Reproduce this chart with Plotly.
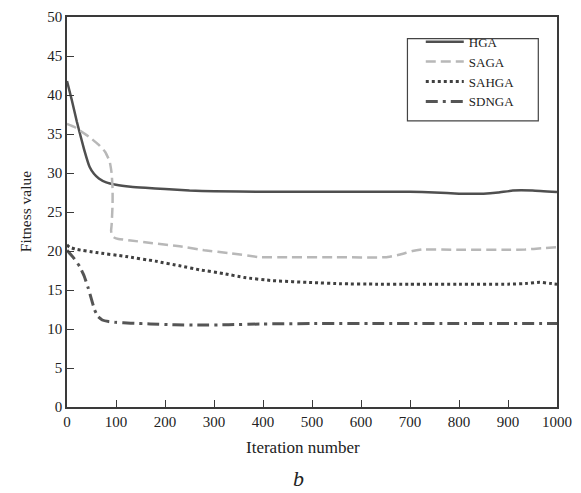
import plotly.graph_objects as go

hga_x = [0, 10, 20, 35, 46, 55, 65, 80, 100, 130, 160, 200, 250, 300, 400, 500, 600, 700, 750, 800, 850, 880, 910, 950, 1000]
hga_y = [41.8, 39.3, 36.6, 33.0, 30.8, 29.9, 29.3, 28.8, 28.5, 28.25, 28.1, 27.95, 27.75, 27.65, 27.6, 27.6, 27.6, 27.6, 27.5, 27.35, 27.35, 27.5, 27.75, 27.75, 27.55]

saga_x = [0, 15, 30, 50, 65, 78, 87, 91, 93, 93, 92, 91, 90, 92, 97, 105, 130, 175, 230, 280, 335, 395, 450, 550, 650, 680, 705, 725, 800, 900, 935, 970, 1000]
saga_y = [36.3, 35.9, 35.3, 34.4, 33.6, 32.7, 31.5, 30.0, 28.0, 26.0, 24.5, 23.3, 22.6, 22.0, 21.7, 21.55, 21.35, 21.0, 20.6, 20.1, 19.7, 19.2, 19.2, 19.2, 19.2, 19.55, 20.0, 20.2, 20.15, 20.15, 20.2, 20.35, 20.5]

sahga_x = [0, 5, 20, 60, 120, 180, 230, 270, 320, 362, 420, 500, 560, 630, 700, 800, 900, 940, 965, 985, 1000]
sahga_y = [20.8, 20.5, 20.2, 19.8, 19.3, 18.7, 18.1, 17.6, 17.1, 16.6, 16.2, 15.95, 15.8, 15.75, 15.75, 15.75, 15.75, 15.85, 16.0, 15.85, 15.75]

sdnga_x = [0, 15, 26, 35, 43, 50, 56, 63, 72, 85, 100, 130, 170, 220, 270, 330, 400, 500, 630, 800, 1000]
sdnga_y = [20.1, 19.0, 18.0, 16.8, 15.3, 13.8, 12.5, 11.6, 11.15, 10.95, 10.85, 10.75, 10.65, 10.55, 10.5, 10.55, 10.65, 10.7, 10.7, 10.7, 10.7]

series = [
    ("HGA", hga_x, hga_y, "#4f4f4f", "solid", 2.5),
    ("SAGA", saga_x, saga_y, "#b8b8b8", "10px,5px", 2.5),
    ("SAHGA", sahga_x, sahga_y, "#404040", "3px,3px", 3),
    ("SDNGA", sdnga_x, sdnga_y, "#555555", "12px,5px,3px,5px", 3),
]

font_family = "Liberation Serif"

fig = go.Figure()
for name, xs, ys, color, dash, w in series:
    fig.add_trace(go.Scatter(
        x=xs, y=ys, name=name, mode="lines",
        line=dict(color=color, dash=dash, width=w, shape="spline", smoothing=0.4),
    ))

axis_common = dict(
    showline=True, linecolor="#3a3a3a", linewidth=1.5, mirror=True,
    ticks="inside", ticklen=7, tickwidth=1.2, tickcolor="#3a3a3a",
    showgrid=False, zeroline=False,
    tickfont=dict(family=font_family, size=15, color="#222222"),
)

fig.update_layout(
    width=581, height=493,
    margin=dict(l=67, r=16, t=9, b=86),
    paper_bgcolor="white", plot_bgcolor="white",
    font=dict(family=font_family, color="#222222"),
    xaxis=dict(range=[0, 1000], dtick=100, tick0=0, **axis_common),
    yaxis=dict(range=[0, 50], dtick=5, tick0=0, **axis_common),
    showlegend=True,
    legend=dict(
        x=0.722, y=0.975, xanchor="left", yanchor="top",
        bgcolor="rgba(0,0,0,0)", borderwidth=0,
        font=dict(family=font_family, size=13, color="#222222"),
        tracegroupgap=0, itemwidth=38,
    ),
    shapes=[dict(type="rect", xref="paper", yref="paper",
                 x0=(413 - 67) / 498, x1=(546 - 67) / 498,
                 y0=(407 - 115) / 398, y1=(407 - 31) / 398,
                 line=dict(color="#444444", width=1.2), fillcolor="rgba(0,0,0,0)")],
    annotations=[
        dict(text="Iteration number", xref="paper", yref="paper",
             x=(307 - 67) / 498, y=-(448 - 407) / 398, xanchor="center", yanchor="middle",
             showarrow=False, font=dict(family=font_family, size=17, color="#222222")),
        dict(text="<i>b</i>", xref="paper", yref="paper",
             x=(302 - 67) / 498, y=-(480 - 407) / 398, xanchor="center", yanchor="middle",
             showarrow=False, font=dict(family=font_family, size=22, color="#222222")),
        dict(text="Fitness value", xref="paper", yref="paper",
             x=(25 - 67) / 498, y=(407 - 207.5) / 398, xanchor="center", yanchor="middle",
             textangle=-90, showarrow=False,
             font=dict(family=font_family, size=15.5, color="#222222")),
    ],
)

fig.write_html("out.html")
